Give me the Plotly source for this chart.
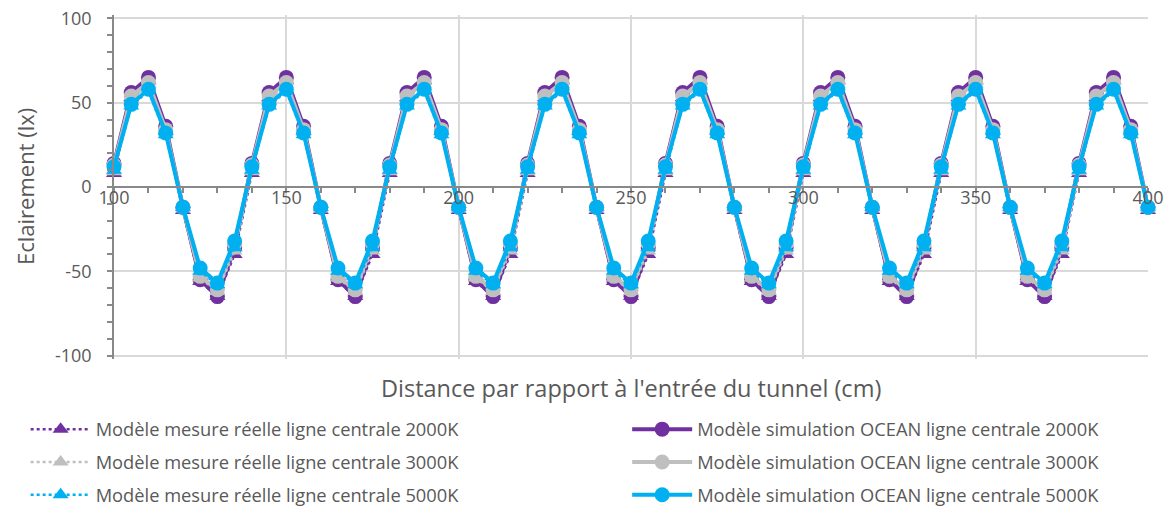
import plotly.graph_objects as go

# Distance (cm)
distance = [100, 105, 110, 115, 120, 125, 130, 135, 140, 145, 150, 155, 160, 165, 170, 175,
            180, 185, 190, 195, 200, 205, 210, 215, 220, 225, 230, 235, 240, 245, 250, 255,
            260, 265, 270, 275, 280, 285, 290, 295, 300, 305, 310, 315, 320, 325, 330, 335,
            340, 345, 350, 355, 360, 365, 370, 375, 380, 385, 390, 395, 400]

# Measured model (triangles, dotted)
mes_2000 = [8, 53, 63, 33, -14, -56, -65, -40, 8, 53, 63, 33, -14, -56, -65, -40,
            8, 53, 63, 33, -14, -56, -65, -40, 8, 53, 63, 33, -14, -56, -65, -40,
            8, 53, 63, 33, -14, -56, -65, -40, 8, 53, 63, 33, -14, -56, -65, -40,
            8, 53, 63, 33, -14, -56, -65, -40, 8, 53, 63, 33, -14]
mes_3000 = [9, 52, 61, 33, -13, -54, -62, -38, 9, 52, 61, 33, -13, -54, -62, -38,
            9, 52, 61, 33, -13, -54, -62, -38, 9, 52, 61, 33, -13, -54, -62, -38,
            9, 52, 61, 33, -13, -54, -62, -38, 9, 52, 61, 33, -13, -54, -62, -38,
            9, 52, 61, 33, -13, -54, -62, -38, 9, 52, 61, 33, -13]
mes_5000 = [10, 48, 57, 31, -12, -50, -58, -36, 10, 48, 57, 31, -12, -50, -58, -36,
            10, 48, 57, 31, -12, -50, -58, -36, 10, 48, 57, 31, -12, -50, -58, -36,
            10, 48, 57, 31, -12, -50, -58, -36, 10, 48, 57, 31, -12, -50, -58, -36,
            10, 48, 57, 31, -12, -50, -58, -36, 10, 48, 57, 31, -12]

# OCEAN simulation model (circles, solid)
sim_2000 = [14, 56, 65, 36, -12, -55, -65, -36, 14, 56, 65, 36, -12, -55, -65, -36,
            14, 56, 65, 36, -12, -55, -65, -36, 14, 56, 65, 36, -12, -55, -65, -36,
            14, 56, 65, 36, -12, -55, -65, -36, 14, 56, 65, 36, -12, -55, -65, -36,
            14, 56, 65, 36, -12, -55, -65, -36, 14, 56, 65, 36, -12]
sim_3000 = [13, 54, 62, 34, -12, -53, -61, -34, 13, 54, 62, 34, -12, -53, -61, -34,
            13, 54, 62, 34, -12, -53, -61, -34, 13, 54, 62, 34, -12, -53, -61, -34,
            13, 54, 62, 34, -12, -53, -61, -34, 13, 54, 62, 34, -12, -53, -61, -34,
            13, 54, 62, 34, -12, -53, -61, -34, 13, 54, 62, 34, -12]
sim_5000 = [12, 49, 58, 32, -12, -48, -57, -32, 12, 49, 58, 32, -12, -48, -57, -32,
            12, 49, 58, 32, -12, -48, -57, -32, 12, 49, 58, 32, -12, -48, -57, -32,
            12, 49, 58, 32, -12, -48, -57, -32, 12, 49, 58, 32, -12, -48, -57, -32,
            12, 49, 58, 32, -12, -48, -57, -32, 12, 49, 58, 32, -12]

x_tick_labels = ["100", "150", "200", "250", "300", "350", "400"]
y_tick_labels = ["-100", "-50", "0", "50", "100"]

PURPLE = "#7030A0"
GREY = "#BFBFBF"
CYAN = "#00B0F0"
TXT = "#595959"
AX = "#898989"
FONT = "Open Sans"

mes = [("Modèle mesure réelle ligne centrale 2000K", mes_2000, PURPLE),
       ("Modèle mesure réelle ligne centrale 3000K", mes_3000, GREY),
       ("Modèle mesure réelle ligne centrale 5000K", mes_5000, CYAN)]
sim = [("Modèle simulation OCEAN ligne centrale 2000K", sim_2000, PURPLE),
       ("Modèle simulation OCEAN ligne centrale 3000K", sim_3000, GREY),
       ("Modèle simulation OCEAN ligne centrale 5000K", sim_5000, CYAN)]

fig = go.Figure()
for i in range(3):
    name, vals, col = sim[i]
    fig.add_trace(go.Scatter(x=distance, y=vals, name=name, mode="lines+markers",
                             line=dict(color=col, width=4),
                             marker=dict(symbol="circle", size=15, color=col),
                             legend="legend2", legendgroup="s%d" % i, legendrank=i,
                             cliponaxis=False))
    name, vals, col = mes[i]
    fig.add_trace(go.Scatter(x=distance, y=vals, name=name, mode="lines+markers",
                             line=dict(color=col, width=2.5, dash="dot"),
                             marker=dict(symbol="triangle-up", size=14, color=col),
                             legend="legend", legendgroup="m%d" % i, legendrank=i,
                             cliponaxis=False))

fig.update_layout(
    width=1176, height=506,
    margin=dict(l=106, r=36, t=7, b=155, autoexpand=False),
    paper_bgcolor="white", plot_bgcolor="white",
    font=dict(family=FONT, color=TXT, size=18),
    showlegend=True,
    legend=dict(xref="container", yref="container", x=0.015, y=0.204,
                xanchor="left", yanchor="top", orientation="v",
                font=dict(size=18.3, color=TXT, family=FONT), itemwidth=60,
                tracegroupgap=6, bgcolor="rgba(0,0,0,0)"),
    legend2=dict(xref="container", yref="container", x=0.5265, y=0.204,
                 xanchor="left", yanchor="top", orientation="v",
                 font=dict(size=18.3, color=TXT, family=FONT), itemwidth=60,
                 tracegroupgap=6, bgcolor="rgba(0,0,0,0)"),
    xaxis=dict(range=[100, 400], tickvals=[100, 150, 200, 250, 300, 350, 400],
               ticktext=x_tick_labels,
               anchor="free", position=0.5,
               showline=True, linecolor=AX, linewidth=1.5,
               ticks="outside", ticklen=5, tickcolor=AX, tickwidth=1.5,
               minor=dict(dtick=10, tick0=100, ticks="outside", ticklen=5,
                          tickcolor=AX, tickwidth=1.5, showgrid=False),
               showgrid=True, gridcolor="#D9D9D9", gridwidth=1.5,
               zeroline=False, tickfont=dict(size=18, color=TXT), tickangle=0,
               ticklabelstandoff=-10, ticklabeloverflow="allow"),
    yaxis=dict(range=[-102, 102], tickvals=[-100, -50, 0, 50, 100],
               ticktext=y_tick_labels,
               showline=True, linecolor=AX, linewidth=1.5,
               ticks="outside", ticklen=5, tickcolor=AX, tickwidth=1.5,
               minor=dict(dtick=10, tick0=0, ticks="outside", ticklen=5,
                          tickcolor=AX, tickwidth=1.5, showgrid=False),
               showgrid=True, gridcolor="#D9D9D9", gridwidth=1.5,
               zeroline=False, tickfont=dict(size=18, color=TXT),
               ticklabelstandoff=12, ticklabeloverflow="allow"),
    annotations=[
        dict(text="Distance par rapport à l'entrée du tunnel (cm)",
             xref="paper", yref="paper", x=0.5, y=-29 / 344,
             xanchor="center", yanchor="middle", showarrow=False,
             font=dict(size=23.5, color=TXT, family=FONT)),
        dict(text="Eclairement (lx)", textangle=-90,
             xref="paper", yref="paper", x=-89 / 1034, y=0.5,
             xanchor="center", yanchor="middle", showarrow=False,
             font=dict(size=22, color=TXT, family=FONT)),
    ],
)

fig.write_html("out.html")
